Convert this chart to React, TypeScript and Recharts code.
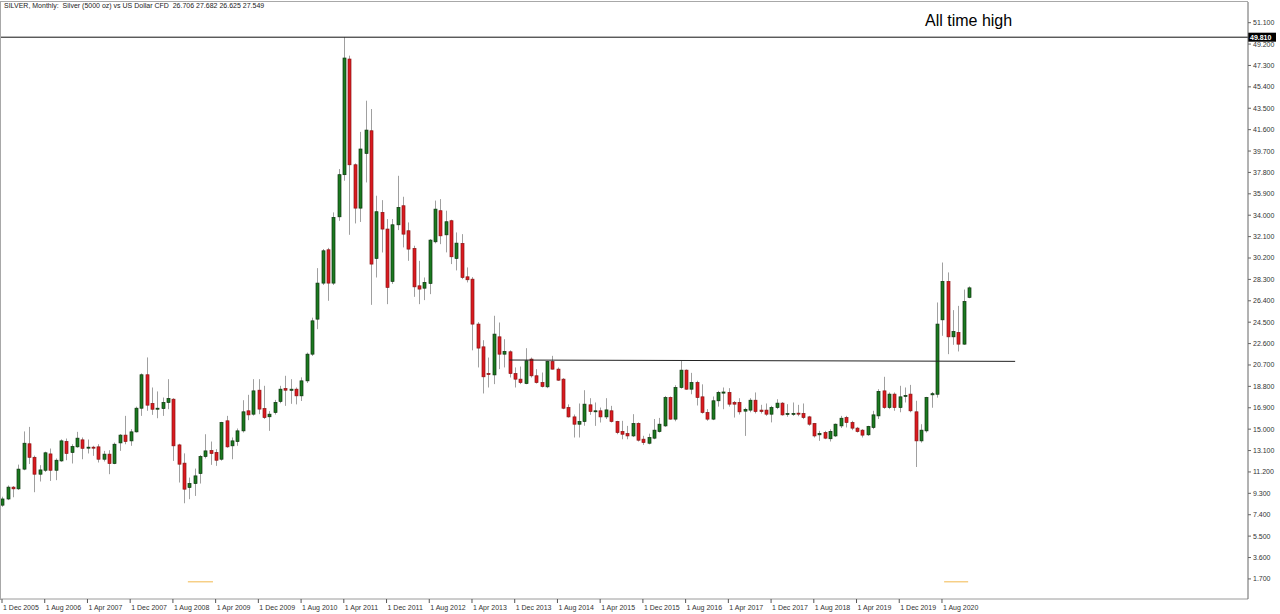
import React from 'react';
import { ComposedChart, Bar, XAxis, YAxis, ReferenceLine } from 'recharts';

// monthly candles Dec 2005 .. Jan 2021 : [open, high, low, close]
const OHLC: number[][] = [
  [8.25, 9.0, 8.1, 8.8],
  // 2006
  [8.8, 10.0, 8.7, 9.85], [9.85, 9.95, 8.95, 9.7], [9.7, 11.85, 9.6, 11.45], [11.45, 14.8, 11.35, 13.75],
  [13.7, 15.2, 11.9, 12.5], [12.5, 12.65, 9.4, 11.0], [11.0, 11.8, 10.35, 11.38], [11.35, 13.0, 11.2, 12.9],
  [12.8, 13.28, 10.4, 11.35], [11.35, 12.4, 10.47, 12.24], [12.18, 14.1, 12.1, 13.96], [13.9, 14.17, 12.24, 12.84],
  // 2007
  [12.93, 13.66, 11.95, 13.46], [13.43, 14.76, 13.35, 14.2], [14.05, 14.26, 12.33, 13.3], [13.35, 14.08, 12.84, 13.4],
  [13.4, 13.52, 12.63, 13.35], [13.43, 13.66, 12.04, 12.33], [12.33, 13.07, 12.13, 12.78], [12.78, 13.13, 11.0, 11.95],
  [11.95, 13.81, 11.89, 13.66], [13.78, 14.56, 13.07, 14.47], [14.47, 16.18, 13.66, 13.9], [13.96, 15.0, 13.52, 14.76],
  // 2008
  [14.76, 17.0, 14.7, 16.86], [16.86, 19.95, 16.18, 19.83], [19.83, 21.37, 16.63, 17.13], [17.28, 18.7, 16.27, 16.77],
  [16.8, 18.35, 15.97, 16.86], [16.83, 17.81, 16.18, 17.37], [17.37, 19.44, 16.77, 17.72], [17.66, 17.75, 12.18, 13.52],
  [13.6, 13.7, 10.26, 11.89], [11.98, 12.85, 8.42, 9.67], [9.82, 10.7, 8.78, 10.17], [10.17, 11.5, 9.07, 10.85],
  // 2009
  [11.06, 12.7, 10.17, 12.57], [12.57, 14.55, 12.4, 13.07], [13.1, 13.9, 11.83, 12.84], [12.93, 13.22, 11.74, 12.24],
  [12.33, 15.65, 12.2, 15.59], [15.74, 16.18, 13.35, 13.43], [13.52, 14.26, 12.33, 13.96], [13.9, 15.06, 13.52, 14.85],
  [14.85, 17.57, 14.7, 16.54], [16.63, 18.05, 15.8, 16.27], [16.33, 19.44, 16.2, 18.4], [18.46, 19.44, 16.33, 16.78],
  // 2010
  [16.83, 18.85, 15.9, 16.03], [16.1, 16.6, 14.85, 16.33], [16.48, 17.6, 16.3, 17.37], [17.46, 18.85, 17.3, 18.55],
  [18.6, 19.74, 17.07, 18.46], [18.45, 19.44, 17.25, 18.55], [18.55, 18.7, 17.2, 17.96], [17.96, 19.6, 17.5, 19.29],
  [19.29, 21.8, 19.1, 21.66], [21.66, 24.9, 21.5, 24.62], [24.77, 29.3, 23.88, 27.97], [27.97, 31.0, 27.8, 30.84],
  // 2011
  [30.93, 31.1, 26.4, 27.97], [27.97, 34.25, 27.8, 33.8], [33.86, 38.1, 33.5, 37.6], [37.6, 49.81, 37.06, 47.96],
  [47.87, 48.17, 32.26, 38.48], [38.48, 38.6, 33.27, 34.63], [34.63, 41.4, 33.4, 39.88], [39.49, 44.17, 36.91, 41.56],
  [41.5, 43.43, 26.04, 29.66], [30.16, 35.73, 28.47, 34.31], [34.25, 35.34, 30.69, 32.77], [32.77, 33.66, 26.1, 27.59],
  // 2012
  [28.12, 33.66, 27.9, 33.15], [33.15, 37.5, 32.68, 34.69], [34.84, 35.64, 31.14, 32.32], [32.62, 33.36, 29.95, 30.99],
  [31.05, 31.29, 26.75, 27.64], [27.73, 29.95, 26.1, 27.44], [27.52, 28.47, 26.46, 28.03], [27.94, 31.88, 26.99, 31.79],
  [31.64, 35.3, 31.5, 34.54], [34.4, 35.43, 31.43, 32.17], [32.26, 34.4, 30.7, 33.42], [33.51, 33.6, 29.66, 30.31],
  // 2013
  [30.16, 32.47, 29.1, 31.52], [31.49, 32.32, 28.32, 28.47], [28.53, 29.36, 28.03, 28.27], [28.32, 28.5, 22.0, 24.33],
  [24.33, 24.5, 20.48, 22.2], [22.31, 22.9, 18.17, 19.65], [19.95, 21.36, 18.7, 19.85], [19.82, 25.07, 19.0, 23.44],
  [23.2, 24.47, 20.33, 21.66], [21.66, 22.99, 20.48, 21.9], [21.87, 22.0, 19.59, 19.94], [19.94, 20.48, 18.7, 19.44],
  // 2014
  [19.44, 20.56, 19.0, 19.14], [19.05, 22.19, 18.99, 21.07], [21.22, 21.36, 19.59, 19.74], [19.74, 20.33, 19.05, 19.14],
  [19.14, 20.03, 18.7, 18.79], [18.76, 21.07, 18.64, 21.01], [21.01, 21.51, 20.3, 20.33], [20.33, 20.48, 19.29, 19.35],
  [19.44, 19.53, 16.77, 16.86], [16.92, 17.2, 16.03, 16.09], [16.09, 16.3, 14.26, 15.44], [15.44, 17.28, 14.26, 15.68],
  // 2015
  [15.68, 18.46, 15.3, 17.22], [17.16, 17.75, 16.27, 16.57], [16.6, 17.37, 15.29, 16.63], [16.63, 16.92, 15.59, 16.09],
  [16.09, 17.75, 15.9, 16.71], [16.63, 17.07, 15.59, 15.68], [15.68, 15.74, 14.55, 14.7], [14.79, 15.74, 14.1, 14.55],
  [14.61, 15.29, 14.1, 14.4], [14.4, 16.33, 14.3, 15.5], [15.5, 15.6, 13.9, 14.02], [14.11, 14.41, 13.6, 13.81],
  // 2016
  [13.75, 14.6, 13.65, 14.26], [14.2, 15.9, 14.1, 14.91], [14.79, 16.0, 14.7, 15.44], [15.29, 17.95, 15.2, 17.81],
  [17.81, 17.9, 15.85, 15.89], [15.89, 18.9, 15.7, 18.7], [18.7, 21.07, 18.6, 20.24], [20.24, 20.3, 18.5, 18.55],
  [18.55, 20.0, 18.1, 19.14], [19.14, 19.3, 17.1, 17.81], [17.87, 18.98, 16.38, 16.48], [16.48, 16.78, 15.74, 15.89],
  // 2017
  [15.89, 17.9, 15.8, 17.52], [17.52, 18.4, 17.0, 18.26], [18.2, 18.7, 16.77, 18.3], [18.26, 18.64, 17.0, 17.22],
  [17.37, 17.5, 16.03, 17.22], [17.37, 17.75, 16.3, 16.54], [16.6, 16.9, 14.4, 16.75], [16.69, 17.75, 16.5, 17.57],
  [17.57, 18.26, 16.4, 16.57], [16.69, 17.16, 16.39, 16.57], [16.69, 17.28, 16.18, 16.33], [16.33, 17.07, 15.6, 16.92],
  // 2018
  [16.92, 17.66, 16.78, 17.31], [17.31, 17.4, 16.2, 16.27], [16.35, 17.22, 16.1, 16.39], [16.35, 17.37, 16.18, 16.4],
  [16.42, 17.16, 16.15, 16.39], [16.39, 17.28, 15.89, 16.03], [16.09, 16.18, 15.3, 15.44], [15.5, 15.55, 14.26, 14.4],
  [14.5, 14.85, 13.96, 14.62], [14.7, 14.85, 14.11, 14.2], [14.15, 14.99, 13.9, 14.8], [14.4, 15.5, 14.3, 15.44],
  // 2019
  [15.29, 16.18, 15.1, 15.97], [16.03, 16.18, 15.15, 15.59], [15.59, 15.74, 14.91, 15.09], [15.09, 15.2, 14.7, 14.79],
  [14.91, 15.0, 14.26, 14.47], [14.5, 15.3, 14.4, 15.24], [15.15, 16.63, 15.0, 16.27], [16.18, 18.55, 15.9, 18.35],
  [18.4, 19.65, 16.8, 16.92], [16.92, 18.26, 16.78, 18.11], [18.11, 18.26, 16.63, 16.92], [16.92, 18.85, 16.5, 17.87],
  // 2020
  [17.9, 18.7, 17.37, 18.0], [18.11, 18.93, 16.5, 16.63], [16.54, 17.52, 11.64, 13.96], [13.96, 15.44, 13.8, 14.91],
  [14.85, 17.87, 14.7, 17.81], [18.05, 18.3, 16.9, 18.15], [18.1, 26.25, 17.8, 24.33], [24.71, 29.8, 23.29, 28.12],
  [28.12, 28.92, 21.66, 23.2], [23.2, 25.57, 22.49, 23.67], [23.58, 25.95, 21.9, 22.55], [22.55, 27.4, 22.49, 26.34],
  // 2021
  [26.706, 27.682, 26.625, 27.549],
];

const X_LABELS = [
  '1 Dec 2005', '1 Aug 2006', '1 Apr 2007', '1 Dec 2007', '1 Aug 2008', '1 Apr 2009', '1 Dec 2009', '1 Aug 2010',
  '1 Apr 2011', '1 Dec 2011', '1 Aug 2012', '1 Apr 2013', '1 Dec 2013', '1 Aug 2014', '1 Apr 2015', '1 Dec 2015',
  '1 Aug 2016', '1 Apr 2017', '1 Dec 2017', '1 Aug 2018', '1 Apr 2019', '1 Dec 2019', '1 Aug 2020',
];
const LABEL_STEP = 8; // months between x labels

const Y_TICKS = [1.7, 3.6, 5.5, 7.4, 9.3, 11.2, 13.1, 15.0, 16.9, 18.8, 20.7, 22.6, 24.5, 26.4, 28.3, 30.2, 32.1, 34.0, 35.9, 37.8, 39.7, 41.6, 43.5, 45.4, 47.3, 49.2, 51.1];

const ATH = 49.81;
const SUPPORT = [{ x: 95, y: 21.14 }, { x: 189.7, y: 21.02 }];
const MARKERS = [[34.8, 39.5], [176.4, 180.9]];
const MARKER_LEVEL = 1.45;

const data = OHLC.map((r, i) => ({ k: i, open: r[0], high: r[1], low: r[2], close: r[3], range: [r[2], r[1]] }));
const xTicks = X_LABELS.map((_, i) => i * LABEL_STEP);

const FONT = '"Liberation Sans", Arial, sans-serif';

const Candle = (props: any) => {
  const { x, y, width, height, payload } = props;
  if (!payload) return null;
  const { open, high, low, close } = payload;
  const top = height >= 0 ? y : y + height;
  const h = Math.abs(height);
  const span = high - low;
  const toY = (v: number) => (span > 0 ? top + ((high - v) / span) * h : top);
  const cx = Math.round(x + width / 2) + 0.5;
  const up = close >= open;
  const bTop = toY(Math.max(open, close));
  const bBot = toY(Math.min(open, close));
  return (
    <g>
      <line x1={cx} x2={cx} y1={top} y2={top + h} stroke="#a0a0a0" strokeWidth={1} />
      <rect
        x={cx - 1.5}
        y={bTop}
        width={3}
        height={Math.max(bBot - bTop, 1)}
        fill={up ? '#1b7a20' : '#da1a1f'}
        stroke={up ? '#0c330d' : '#8a1414'}
        strokeWidth={0.7}
      />
    </g>
  );
};

const XTick = (props: any) => {
  const { x, y, payload } = props;
  const label = X_LABELS[Math.round(payload.value / LABEL_STEP)];
  return (
    <text x={x + 1} y={y + 5} fontSize={7} fontFamily={FONT} fill="#333" textAnchor="start">
      {label}
    </text>
  );
};

const AthBox = (props: any) => {
  const { viewBox } = props;
  const right = viewBox.x + viewBox.width;
  return (
    <g>
      <rect x={right} y={viewBox.y - 4.5} width={28} height={9} fill="#000" />
      <text x={right + 2} y={viewBox.y + 2.5} fontSize={7} fontWeight="bold" fontFamily={FONT} fill="#fff">
        {ATH.toFixed(3)}
      </text>
    </g>
  );
};

export default function App() {
  return (
    <div style={{ position: 'absolute', left: 0, top: 0, width: 1280, height: 614, background: '#fff', fontFamily: FONT }}>
      <ComposedChart width={1280} height={614} data={data} margin={{ top: 2, right: 0, bottom: 0, left: 0 }}>
        <XAxis
          dataKey="k"
          type="number"
          domain={[-0.375, 233.3]}
          ticks={xTicks}
          tick={<XTick />}
          tickSize={4}
          height={15}
          axisLine={{ stroke: '#9a9a9a' }}
          tickLine={{ stroke: '#555' }}
          allowDataOverflow
          interval={0}
        />
        <YAxis
          orientation="right"
          type="number"
          domain={[-0.084, 52.936]}
          ticks={Y_TICKS}
          tickFormatter={(v: number) => v.toFixed(3)}
          tick={{ fontSize: 7, fill: '#333', fontFamily: FONT }}
          tickSize={3}
          width={32}
          axisLine={{ stroke: '#666' }}
          tickLine={{ stroke: '#666' }}
          allowDataOverflow
          interval={0}
        />
        <Bar dataKey="range" barSize={4} shape={<Candle />} isAnimationActive={false} />
        <ReferenceLine y={ATH} stroke="#111" strokeWidth={1} label={<AthBox />} />
        <ReferenceLine segment={SUPPORT} stroke="#222" strokeWidth={1} ifOverflow="visible" />
        {MARKERS.map((m, i) => (
          <ReferenceLine
            key={i}
            segment={[{ x: m[0], y: MARKER_LEVEL }, { x: m[1], y: MARKER_LEVEL }]}
            stroke="#f6cf86"
            strokeWidth={1.5}
          />
        ))}
      </ComposedChart>
      <div style={{ position: 'absolute', left: 0, top: 1, width: 1247, height: 598, borderTop: '1px solid #a8a8a8', borderLeft: '1px solid #a8a8a8', pointerEvents: 'none' }} />
      <div style={{ position: 'absolute', left: 4, top: 2, fontSize: 7, color: '#222', whiteSpace: 'pre' }}>
        {'SILVER, Monthly:  Silver (5000 oz) vs US Dollar CFD  26.706 27.682 26.625 27.549'}
      </div>
      <div style={{ position: 'absolute', left: 925, top: 12, fontSize: 16, color: '#000' }}>All time high</div>
    </div>
  );
}
